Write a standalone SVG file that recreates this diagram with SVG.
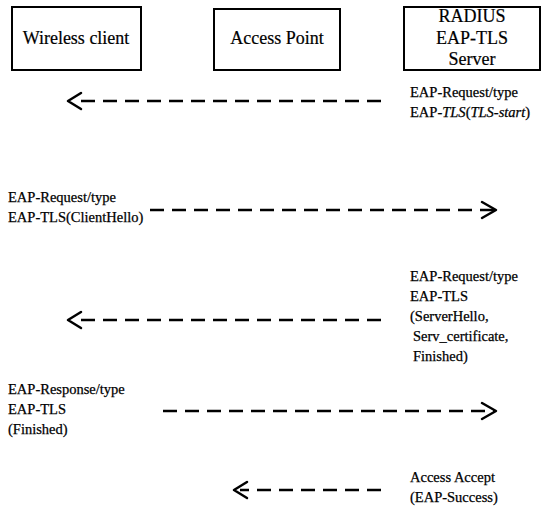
<svg xmlns="http://www.w3.org/2000/svg" width="554" height="526" viewBox="0 0 554 526">
<defs>
<style>
.box{fill:#fff;stroke:#000;stroke-width:2}
.bt{font-family:"Liberation Serif",serif;font-size:18px;fill:#000;text-anchor:middle;stroke:#000;stroke-width:0.2}
.lb{font-family:"Liberation Serif",serif;font-size:14.5px;fill:#000;stroke:#000;stroke-width:0.25}
.dash{stroke:#000;stroke-width:2.5;stroke-dasharray:14 8;fill:none}
.head{stroke:#000;stroke-width:2.5;fill:none;stroke-linecap:round;stroke-linejoin:round}
</style>
</defs>
<rect width="554" height="526" fill="#fff"/>
<g id="wireless-client">
<rect class="box" x="12" y="7" width="129" height="63"/>
<text class="bt" x="76" y="44">Wireless client</text>
</g>
<g id="access-point">
<rect class="box" x="214" y="9" width="126" height="61"/>
<text class="bt" x="277" y="44">Access Point</text>
</g>
<g id="radius-server">
<rect class="box" x="404" y="7" width="136" height="63"/>
<text class="bt" x="472" y="22">RADIUS</text>
<text class="bt" x="472" y="44">EAP-TLS</text>
<text class="bt" x="472" y="65">Server</text>
</g>
<g id="connectors">
<line class="dash" x1="381" y1="101" x2="74" y2="101"/>
<polyline class="head" points="81,93 68,101 81,109"/>
<line class="dash" x1="150" y1="210" x2="494" y2="210"/>
<polyline class="head" points="482,202 496,210 482,218"/>
<line class="dash" x1="381" y1="320" x2="74" y2="320"/>
<polyline class="head" points="81,312 68,320 81,328"/>
<line class="dash" x1="163" y1="411" x2="494" y2="411"/>
<polyline class="head" points="482,403 496,411 482,419"/>
<line class="dash" x1="381" y1="490" x2="240" y2="490"/>
<polyline class="head" points="247,482 234,490 247,498"/>
</g>
<g id="labels">
<text class="lb" x="410" y="97">EAP-Request/type</text>
<text class="lb" x="410" y="117">EAP-<tspan font-style="italic">TLS</tspan>(<tspan font-style="italic">TLS-start</tspan>)</text>
<text class="lb" x="8" y="202">EAP-Request/type</text>
<text class="lb" x="8" y="222">EAP-TLS(ClientHello)</text>
<text class="lb" x="410" y="281">EAP-Request/type</text>
<text class="lb" x="410" y="301">EAP-TLS</text>
<text class="lb" x="410" y="321">(ServerHello,</text>
<text class="lb" x="413" y="341">Serv_certificate,</text>
<text class="lb" x="413" y="361">Finished)</text>
<text class="lb" x="8" y="394">EAP-Response/type</text>
<text class="lb" x="8" y="414">EAP-TLS</text>
<text class="lb" x="8" y="434">(Finished)</text>
<text class="lb" x="410" y="482">Access Accept</text>
<text class="lb" x="410" y="502">(EAP-Success)</text>
</g>
</svg>
